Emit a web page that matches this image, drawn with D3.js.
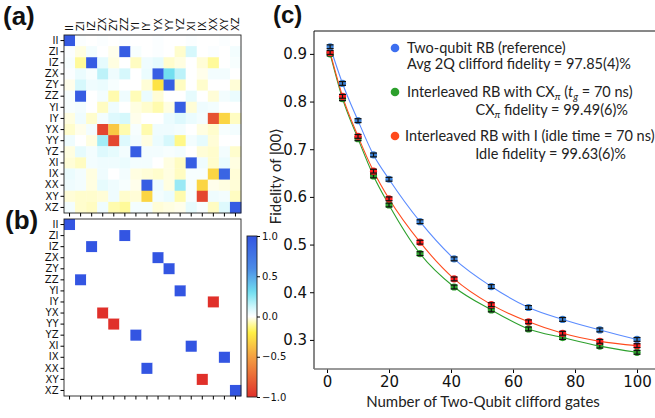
<!DOCTYPE html>
<html>
<head>
<meta charset="utf-8">
<script src="https://cdn.jsdelivr.net/npm/d3@7"></script>
<style>
  body { margin: 0; background: #fff; }
  svg { display: block; }
  .lbl { font-family: "DejaVu Sans", sans-serif; fill: #111; }
  .myr { font-family: Lato, "Open Sans", sans-serif; fill: #222; }
</style>
</head>
<body>
<div id="chart"></div>
<script>
// Pauli labels (rows and columns of the process matrices)
const paulis = ['II', 'ZI', 'IZ', 'ZX', 'ZY', 'ZZ', 'YI', 'IY', 'YX', 'YY', 'YZ', 'XI', 'IX', 'XX', 'XY', 'XZ'];

const measured = [
  [0.97, 0.01, 0, 0.01, 0, 0.01, 0, 0, 0.01, 0, 0, 0.01, 0, 0, 0.01, 0],
  [0.01, -0.03, 0.03, 0, -0.02, 0.95, 0.02, 0, 0.01, 0, -0.05, 0.1, 0, 0.01, 0, 0.03],
  [0.02, -0.1, 0.95, 0.06, -0.03, 0, -0.06, 0.04, 0.06, -0.05, -0.03, 0, -0.04, -0.1, 0, 0.02],
  [0.01, 0.05, 0.02, 0.15, 0.04, 0.1, 0, 0.05, 0.93, 0.3, 0.15, 0, -0.02, 0.03, 0.03, 0],
  [-0.02, 0.1, 0.04, 0.05, 0.02, 0, 0, -0.04, -0.25, 0.93, -0.06, 0, -0.05, 0, 0, -0.04],
  [0.02, 0.95, 0, 0.03, -0.08, 0.04, -0.07, 0.05, -0.04, 0, 0, 0.06, 0, -0.04, 0.03, 0.05],
  [0.02, 0.03, 0, -0.06, 0.04, 0, -0.03, -0.05, -0.08, -0.03, 0.94, -0.04, 0.04, 0.03, 0, 0],
  [-0.03, 0.04, -0.05, 0.03, 0.08, 0.1, -0.02, 0, 0, 0.05, 0.08, 0.05, 0.03, -0.85, -0.3, -0.06],
  [-0.05, -0.02, 0.03, -0.9, -0.35, -0.08, 0.02, -0.08, 0.04, 0.04, 0.03, 0, -0.03, -0.05, 0.02, 0.03],
  [0.04, 0, -0.03, 0.2, -0.9, 0.08, 0.03, -0.03, 0.05, 0.1, -0.12, 0.03, 0.06, -0.04, 0, 0],
  [-0.03, 0.06, 0.03, 0.08, 0.06, 0.03, 0.94, 0.03, 0.03, 0.02, 0.03, 0, -0.04, -0.05, 0.03, -0.05],
  [-0.04, -0.06, 0.03, 0.04, 0.04, 0.05, 0.03, 0.03, 0, -0.03, -0.06, 0.93, 0.04, -0.05, 0.05, -0.03],
  [0.05, 0.03, -0.03, 0.04, 0, 0.03, -0.03, -0.04, -0.05, -0.03, -0.06, 0.02, 0.02, -0.3, 0.88, -0.04],
  [0.04, 0.03, -0.03, 0.06, 0.04, 0.02, -0.02, 0.94, 0.04, -0.03, 0.22, 0.02, -0.3, -0.02, -0.03, -0.04],
  [-0.04, -0.05, -0.05, -0.04, 0.04, -0.05, -0.04, -0.3, 0.03, 0.05, -0.08, 0.02, -0.9, 0.04, 0.03, -0.06],
  [0.03, -0.05, -0.06, 0.04, -0.08, -0.1, 0.03, 0.03, -0.04, -0.03, -0.02, 0.06, 0.02, -0.06, 0.08, 0.95]
];

// (b) ideal matrix: [row, column, value] of the non-zero entries
const idealEntries = [
  [0, 0, 1], [1, 5, 1], [2, 2, 1], [3, 8, 1], [4, 9, 1], [5, 1, 1], [6, 10, 1], [7, 13, -1],
  [8, 3, -1], [9, 4, -1], [10, 6, 1], [11, 11, 1], [12, 14, 1], [13, 7, 1], [14, 12, -1], [15, 15, 1]
];

const colorTicks = [-1, -0.5, 0, 0.5, 1];

// (c) randomized benchmarking
const gates = [1, 5, 10, 15, 20, 30, 41, 53, 65, 76, 88, 100];
const refRB = [0.915, 0.838, 0.760, 0.688, 0.637, 0.548, 0.470, 0.412, 0.368, 0.343, 0.321, 0.301];
const cxRB = [0.900, 0.806, 0.722, 0.644, 0.583, 0.481, 0.411, 0.363, 0.323, 0.305, 0.287, 0.274];
const idleRB = [0.903, 0.811, 0.727, 0.654, 0.596, 0.505, 0.428, 0.374, 0.338, 0.314, 0.297, 0.288];
const refErr = [0.004, 0.004, 0.004, 0.004, 0.004, 0.004, 0.004, 0.004, 0.004, 0.004, 0.004, 0.004];
const cxErr = [0.004, 0.004, 0.004, 0.004, 0.004, 0.004, 0.004, 0.004, 0.004, 0.004, 0.004, 0.004];
const idleErr = [0.004, 0.004, 0.004, 0.004, 0.004, 0.004, 0.004, 0.004, 0.004, 0.004, 0.004, 0.004];
const xTicks = [0, 20, 40, 60, 80, 100];
const yTicks = [0.3, 0.4, 0.5, 0.6, 0.7, 0.8, 0.9];

const W = 655, H = 418;
const svg = d3.select('#chart').append('svg')
  .attr('width', W)
  .attr('height', H);
svg.append('rect').attr('width', W).attr('height', H).attr('fill', '#fff');

// colour map: red (-1) -> yellow -> white (0) -> cyan -> blue (1)
const color = d3.scaleLinear()
  .domain([-1, -0.5, -0.2, -0.1, 0, 0.1, 0.3, 0.6, 1])
  .range(['#e0302a', '#f3a043', '#fff045', '#fffa9a', '#ffffff', '#d6f8fc', '#72dff0', '#4b8ae6', '#3355e2'])
  .clamp(true);

function drawMatrix(cells, y0, y1, topLabels) {
  const x = d3.scaleBand().domain(paulis).range([64, 241]);
  const y = d3.scaleBand().domain(paulis).range([y0, y1]);
  const g = svg.append('g');

  g.selectAll('rect.cell')
    .data(cells)
    .join('rect')
    .attr('class', 'cell')
    .attr('x', d => x(paulis[d.c]))
    .attr('y', d => y(paulis[d.r]))
    .attr('width', x.bandwidth() + 0.3)
    .attr('height', y.bandwidth() + 0.3)
    .attr('fill', d => color(d.v));

  g.append('rect')
    .attr('x', 64).attr('y', y0)
    .attr('width', 177).attr('height', y1 - y0)
    .attr('fill', 'none').attr('stroke', '#222').attr('stroke-width', 0.9);

  // row labels
  const yAxis = d3.axisLeft(y).tickSize(3.5).tickPadding(2);
  const ya = g.append('g').attr('transform', 'translate(64,0)').call(yAxis);
  ya.select('.domain').remove();
  ya.selectAll('text').attr('class', 'lbl').style('font-size', '10px');

  // bottom ticks, no labels
  const xAxis = d3.axisBottom(x).tickSize(3.5).tickFormat('');
  const xa = g.append('g').attr('transform', `translate(0,${y1})`).call(xAxis);
  xa.select('.domain').remove();

  if (topLabels) {
    g.selectAll('text.col')
      .data(paulis)
      .join('text')
      .attr('class', 'lbl')
      .style('font-size', '10px')
      .attr('transform', d => `translate(${x(d) + x.bandwidth() / 2},31) rotate(-90)`)
      .attr('dy', '0.35em')
      .text(d => d);
  }
}

const measuredCells = [];
measured.forEach((row, r) => row.forEach((v, c) => measuredCells.push({r, c, v})));
drawMatrix(measuredCells, 35, 213, true);

const idealCells = [];
paulis.forEach((p, r) => paulis.forEach((q, c) => idealCells.push({r, c, v: 0})));
idealEntries.forEach(([r, c, v]) => { idealCells[r * 16 + c].v = v; });
drawMatrix(idealCells, 219, 396, false);

// colour bar
const cb = d3.scaleLinear().domain([-1, 1]).range([397, 236]);
const grad = svg.append('defs').append('linearGradient')
  .attr('id', 'cbar').attr('x1', 0).attr('y1', 1).attr('x2', 0).attr('y2', 0);
d3.range(0, 1.0001, 0.02).forEach(t => {
  grad.append('stop').attr('offset', t).attr('stop-color', color(-1 + 2 * t));
});
svg.append('rect')
  .attr('x', 247).attr('y', 236).attr('width', 10).attr('height', 161)
  .attr('fill', 'url(#cbar)').attr('stroke', '#222').attr('stroke-width', 0.9);
const cba = svg.append('g').attr('transform', 'translate(257,0)')
  .call(d3.axisRight(cb).tickValues(colorTicks).tickSize(3).tickPadding(2).tickFormat(d3.format('.1f')));
cba.select('.domain').remove();
cba.selectAll('text').attr('class', 'lbl').style('font-size', '10px');

// panel letters
const letters = [['(a)', 3, 25, 26], ['(b)', 5, 229, 26], ['(c)', 273, 23, 24]];
svg.selectAll('text.letter')
  .data(letters)
  .join('text')
  .attr('x', d => d[1]).attr('y', d => d[2])
  .style('font-family', '"Liberation Sans", Arial, sans-serif')
  .style('font-weight', 'bold')
  .style('font-size', d => d[3] + 'px')
  .attr('fill', '#111')
  .text(d => d[0]);

// (c) RB decay
const pLeft = 314, pTop = 31, pBottom = 369;
const x = d3.scaleLinear().domain([-4.2, 110]).range([pLeft, pLeft + 114.2 * 3.1]);
const y = d3.scaleLinear().domain([0.239, 0.948]).range([pBottom, pTop]);

const plot = svg.append('g');

const yAx = plot.append('g').attr('transform', `translate(${pLeft},0)`)
  .call(d3.axisLeft(y).tickValues(yTicks).tickSize(4).tickPadding(3).tickFormat(d3.format('.1f')));
yAx.select('.domain').remove();
yAx.selectAll('text').attr('class', 'lbl').style('font-size', '15px');

const xAx = plot.append('g').attr('transform', `translate(0,${pBottom})`)
  .call(d3.axisBottom(x).tickValues(xTicks).tickSize(4).tickPadding(3));
xAx.select('.domain').remove();
xAx.selectAll('text').attr('class', 'lbl').style('font-size', '15px');

plot.append('line').attr('x1', pLeft).attr('x2', W).attr('y1', pTop).attr('y2', pTop)
  .attr('stroke', '#111').attr('stroke-width', 1);
plot.append('line').attr('x1', pLeft).attr('x2', pLeft).attr('y1', pTop).attr('y2', pBottom)
  .attr('stroke', '#111').attr('stroke-width', 1);
plot.append('line').attr('x1', pLeft).attr('x2', W).attr('y1', pBottom).attr('y2', pBottom)
  .attr('stroke', '#777').attr('stroke-width', 1.6);

const series = [
  {vals: cxRB, err: cxErr, line: '#2ca02c', fill: '#2ca02c'},
  {vals: idleRB, err: idleErr, line: '#ff4a1c', fill: '#ff1f1f'},
  {vals: refRB, err: refErr, line: '#5b8cff', fill: '#3b80d4'}
];

const line = d3.line()
  .x((d, i) => x(gates[i]))
  .y(d => y(d))
  .curve(d3.curveMonotoneX);

series.forEach(s => {
  plot.append('path')
    .attr('d', line(s.vals))
    .attr('fill', 'none')
    .attr('stroke', s.line)
    .attr('stroke-width', 1.1);
});

series.forEach(s => {
  const pts = plot.append('g');
  pts.selectAll('circle')
    .data(s.vals)
    .join('circle')
    .attr('cx', (d, i) => x(gates[i]))
    .attr('cy', d => y(d))
    .attr('r', 3.6)
    .attr('fill', s.fill);
  // error bars
  s.vals.forEach((v, i) => {
    const cx = x(gates[i]);
    const ya = y(v - s.err[i]), yb = y(v + s.err[i]);
    pts.append('line').attr('x1', cx).attr('x2', cx).attr('y1', ya).attr('y2', yb)
      .attr('stroke', '#111').attr('stroke-width', 1.2);
    [ya, yb].forEach(yy => {
      pts.append('line').attr('x1', cx - 3.5).attr('x2', cx + 3.5).attr('y1', yy).attr('y2', yy)
        .attr('stroke', '#111').attr('stroke-width', 1.2);
    });
  });
});

// axis titles
svg.append('text')
  .attr('class', 'myr')
  .attr('x', 483).attr('y', 407)
  .attr('text-anchor', 'middle')
  .style('font-size', '15px')
  .text('Number of Two-Qubit clifford gates');

const yt = svg.append('text')
  .attr('class', 'myr')
  .attr('transform', 'translate(281,176) rotate(-90)')
  .attr('text-anchor', 'middle')
  .style('font-size', '15px');
yt.append('tspan').text('Fidelity of |00');
yt.append('tspan').text('\u27E9');

// legend
const legDots = [['#3d6ff0', 48], ['#2ca02c', 92], ['#ff4a1c', 136]];
svg.selectAll('circle.leg')
  .data(legDots)
  .join('circle')
  .attr('cx', 395).attr('cy', d => d[1]).attr('r', 4.3)
  .attr('fill', d => d[0]);

function legText(xp, yp, anchor) {
  return svg.append('text')
    .attr('class', 'myr')
    .attr('x', xp).attr('y', yp)
    .attr('text-anchor', anchor)
    .style('font-size', '14.5px');
}
legText(407, 53, 'start').text('Two-qubit RB (reference)');
legText(407, 69, 'start').text('Avg 2Q clifford fidelity = 97.85(4)%');

const l3 = legText(407, 97, 'start');
l3.append('tspan').text('Interleaved RB with CX');
l3.append('tspan').attr('font-size', '10px').attr('dy', 3).style('font-style', 'italic').text('\u03C0');
l3.append('tspan').attr('dy', -3).text(' (');
l3.append('tspan').style('font-style', 'italic').text('t');
l3.append('tspan').attr('font-size', '10px').attr('dy', 3).style('font-style', 'italic').text('g');
l3.append('tspan').attr('dy', -3).text(' = 70 ns)');

const l4 = legText(628, 115, 'end');
l4.append('tspan').text('CX');
l4.append('tspan').attr('font-size', '10px').attr('dy', 3).style('font-style', 'italic').text('\u03C0');
l4.append('tspan').attr('dy', -3).text(' fidelity = 99.49(6)%');

legText(405, 141, 'start').text('Interleaved RB with I (idle time = 70 ns)');
legText(626, 159, 'end').text('Idle fidelity = 99.63(6)%');
</script>
</body>
</html>
